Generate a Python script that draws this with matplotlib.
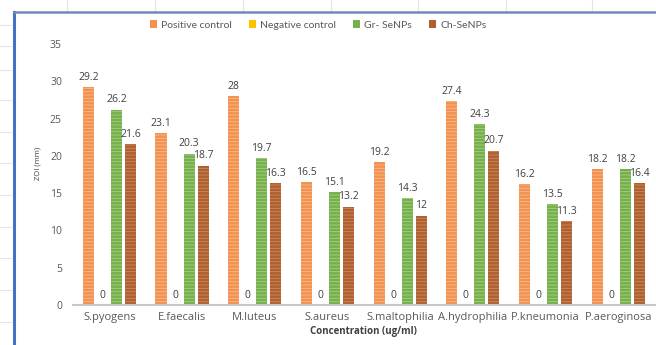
import numpy as np
import matplotlib.pyplot as plt
from matplotlib.lines import Line2D
from matplotlib.patches import Patch

# ZOI per organism for each treatment
organisms = ['S.pyogens', 'E.faecalis', 'M.luteus', 'S.aureus', 'S.maltophilia',
             'A.hydrophilia', 'P.kneumonia', 'P.aeroginosa']
positive_control = [29.2, 23.1, 28, 16.5, 19.2, 27.4, 16.2, 18.2]
negative_control = [0, 0, 0, 0, 0, 0, 0, 0]
gr_senps = [26.2, 20.3, 19.7, 15.1, 14.3, 24.3, 13.5, 18.2]
ch_senps = [21.6, 18.7, 16.3, 13.2, 12, 20.7, 11.3, 16.4]

series_names = ['Positive control', 'Negative control', 'Gr- SeNPs', 'Ch-SeNPs']
face_colors = ['#F39250', '#FFC000', '#76B04A', '#B0602F']
stripe_colors = ['#F9BA8C', '#FFD966', '#A6CF86', '#CB8A63']

plt.rcParams['font.family'] = ['Open Sans', 'DejaVu Sans']
plt.rcParams['hatch.linewidth'] = 0.6

fig = plt.figure(figsize=(6.56, 3.45), dpi=100)
W, H = 656, 345

# spreadsheet gridlines peeking out around the chart frame
for gx in [67, 155, 243, 331, 418, 506, 592]:
    fig.add_artist(Line2D([gx / W] * 2, [1, 1 - 11 / H], color='#e4e4e4', lw=0.8))
for gy in [25, 46, 70, 100, 132, 163, 195, 227, 258, 290, 322]:
    fig.add_artist(Line2D([0, 11 / W], [1 - gy / H] * 2, color='#e4e4e4', lw=0.8))
# blue chart frame (left and top edges)
fig.add_artist(Line2D([13.5 / W] * 2, [0, 1 - 12 / H], color='#4472C4', lw=2.2))
fig.add_artist(Line2D([13.5 / W, 1], [1 - 12 / H] * 2, color='#7189BD', lw=1.8))

ax = fig.add_axes([73 / W, 40 / H, 581.6 / W, 261 / H])

x = np.arange(len(organisms))
step = 0.193
width = 0.152
all_series = [positive_control, negative_control, gr_senps, ch_senps]

for i, vals in enumerate(all_series):
    pos = x + (i - 1.5) * step
    ax.bar(pos, vals, width, color=face_colors[i], edgecolor=stripe_colors[i],
           linewidth=0, hatch='-----', zorder=2)
    for xb, v in zip(pos, vals):
        ax.annotate(f'{v:g}', (xb, v), xytext=(0, 3), textcoords='offset points',
                    ha='center', va='bottom', fontsize=7.5, color='#404040')

ax.set_xlim(-0.5, len(organisms) - 0.5)
ax.set_ylim(0, 35)
ax.set_yticks(np.arange(0, 36, 5))
ax.set_xticks(x, organisms)
ax.tick_params(axis='both', length=0, labelsize=7.5, labelcolor='#595959')
ax.tick_params(axis='x', pad=5, labelsize=8)
ax.tick_params(axis='y', pad=8)
for side in ['top', 'right', 'left']:
    ax.spines[side].set_visible(False)
ax.spines['bottom'].set_color('#c8c8c8')
ax.spines['bottom'].set_linewidth(1.5)

ax.set_xlabel('Concentration (ug/ml)', fontsize=7, fontweight='bold',
              color='#404040', labelpad=2)
fig.text(38 / W, 1 - 163 / H, 'ZOI (mm)', rotation=90, ha='center', va='center',
         fontsize=5.5, color='#404040')

handles = [Patch(facecolor=c) for c in face_colors]
fig.legend(handles, series_names, loc='center', bbox_to_anchor=(318 / W, 1 - 25 / H),
           ncol=4, frameon=False, prop={'family': 'Lato', 'size': 7.5},
           labelcolor='#595959', handlelength=0.7, handleheight=0.7,
           handletextpad=0.4, columnspacing=1.6)

fig.savefig('out.png', dpi=100, facecolor='white')
